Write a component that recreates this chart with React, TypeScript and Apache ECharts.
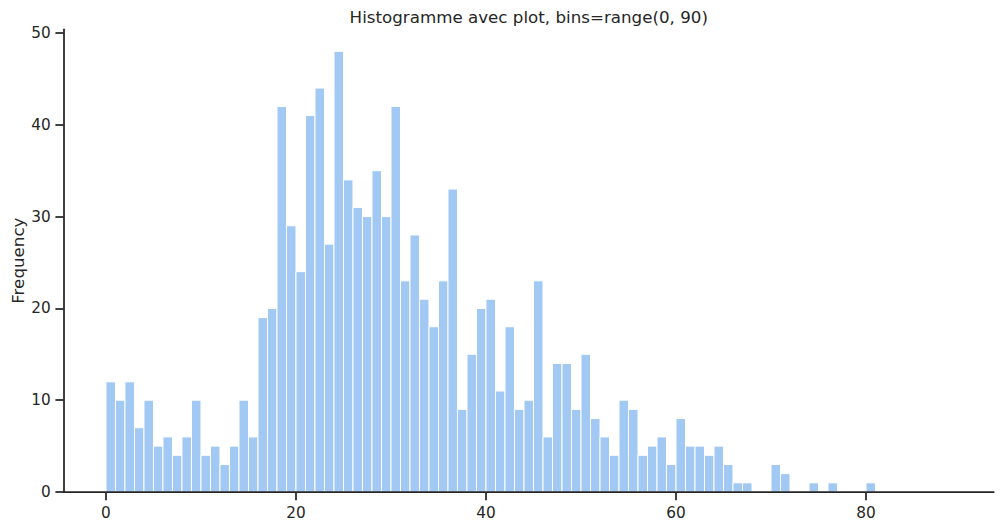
import React, { useEffect, useRef } from "react";
import * as echarts from "echarts";

const binStart = 0;
const binEnd = 89;
const counts = [
  12, 10, 12, 7, 10, 5, 6, 4, 6, 10,
  4, 5, 3, 5, 10, 6, 19, 20, 42, 29,
  24, 41, 44, 27, 48, 34, 31, 30, 35, 30,
  42, 23, 28, 21, 18, 23, 33, 9, 15, 20,
  21, 11, 18, 9, 10, 23, 6, 14, 14, 9,
  15, 8, 6, 4, 10, 9, 4, 5, 6, 3,
  8, 5, 5, 4, 5, 3, 1, 1, 0, 0,
  3, 2, 0, 0, 1, 0, 1, 0, 0, 0,
  1, 0, 0, 0, 0, 0, 0, 0, 0,
];
const xTicks = [0, 20, 40, 60, 80];
const yTicks = [0, 10, 20, 30, 40, 50];
const titleText = "Histogramme avec plot, bins=range(0, 90)";
const yLabel = "Frequency";

export default function App() {
  const ref = useRef<HTMLDivElement>(null);
  useEffect(() => {
    document.body.style.margin = "0";
    const chart = echarts.init(ref.current!, null, { renderer: "svg" });
    const data = counts.map((c, i) => [binStart + i, binStart + i + 1, c]);
    const span = binEnd - binStart;
    const maxC = Math.max(...counts);
    const textColor = "#262626";
    const font = "DejaVu Sans";
    const gridLeft = 63.7;
    const gridRight = 9.2;
    const gridTop = 29.3;
    const gridBottom = 38;
    chart.setOption({
      animation: false,
      grid: {
        left: gridLeft,
        right: gridRight,
        top: gridTop,
        bottom: gridBottom,
        containLabel: false,
        outerBoundsMode: "none",
      },
      graphic: [
        {
          type: "text",
          x: (gridLeft + (1003 - gridRight)) / 2,
          y: 17,
          style: {
            text: titleText,
            fill: textColor,
            font: `16.7px "${font}"`,
            textAlign: "center",
            textVerticalAlign: "middle",
          },
        },
        {
          type: "text",
          x: 18,
          y: (gridTop + (530 - gridBottom)) / 2,
          rotation: Math.PI / 2,
          style: {
            text: yLabel,
            fill: textColor,
            font: `16.7px "${font}"`,
            textAlign: "center",
            textVerticalAlign: "middle",
          },
        },
      ],
      xAxis: {
        type: "value",
        min: binStart - span * 0.05,
        max: binEnd + span * 0.05,
        z: 5,
        splitLine: { show: false },
        axisLine: { onZero: false, lineStyle: { color: textColor, width: 1.75 } },
        axisTick: {
          length: 8.3,
          lineStyle: { color: textColor, width: 1.75 },
          customValues: xTicks,
        },
        axisLabel: {
          customValues: xTicks,
          color: textColor,
          fontFamily: font,
          fontSize: 15.3,
          margin: 13,
        },
      },
      yAxis: {
        type: "value",
        min: 0,
        max: maxC * 1.05,
        z: 5,
        splitLine: { show: false },
        axisLine: { show: true, onZero: false, lineStyle: { color: textColor, width: 1.75 } },
        axisTick: {
          show: true,
          length: 8.3,
          lineStyle: { color: textColor, width: 1.75 },
          customValues: yTicks,
        },
        axisLabel: {
          customValues: yTicks,
          color: textColor,
          fontFamily: font,
          fontSize: 15.3,
          margin: 13,
        },
      },
      series: [
        {
          type: "custom",
          z: 1,
          data,
          encode: { x: [0, 1], y: 2 },
          renderItem: (params: any, api: any) => {
            const c = api.value(2);
            if (!c) return null;
            const p0 = api.coord([api.value(0), c]);
            const p1 = api.coord([api.value(1), 0]);
            return {
              type: "rect",
              shape: { x: p0[0], y: p0[1], width: p1[0] - p0[0], height: p1[1] - p0[1] },
              style: { fill: "#a1c9f4", stroke: "#ffffff", lineWidth: 1 },
            };
          },
        },
      ],
    });
    return () => chart.dispose();
  }, []);
  return <div ref={ref} style={{ width: 1003, height: 530 }} />;
}
